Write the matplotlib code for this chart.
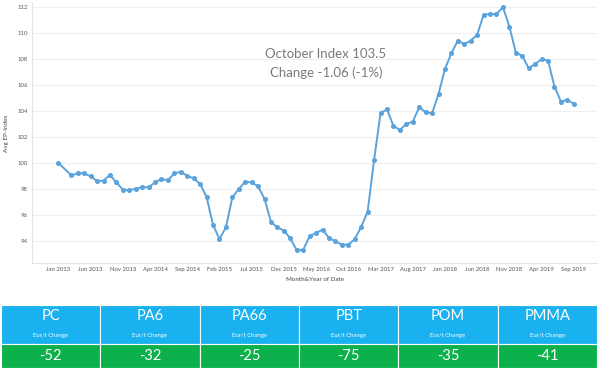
#!/usr/bin/env python3
"""EP-Index monthly line + price change table below"""
import matplotlib
matplotlib.use("Agg")
import matplotlib.pyplot as plt
from matplotlib.patches import Rectangle

plt.rcParams["font.family"] = ["Lato", "DejaVu Sans"]

# Months (year, month) - Feb 2013 has no value in the source
YEARS = [2013] * 11 + [2014] * 12 + [2015] * 12 + [2016] * 12 + [2017] * 12 + [2018] * 12 + [2019] * 9
MONTHS = [1] + list(range(3, 13)) + list(range(1, 13)) * 5 + list(range(1, 10))

EP_INDEX = [
    100.0, 99.05, 99.2, 99.2, 98.97, 98.6, 98.64, 99.08, 98.5, 97.95, 97.9,
    98.03, 98.13, 98.13, 98.5, 98.77, 98.67, 99.2, 99.33, 99.0, 98.82, 98.38, 97.38,
    95.23, 94.15, 95.05, 97.36, 98.0, 98.56, 98.5, 98.2, 97.23, 95.46, 95.05, 94.8,
    94.2, 93.28, 93.33, 94.36, 94.62, 94.87, 94.23, 93.97, 93.72, 93.72, 94.15, 95.08,
    96.26, 100.25, 103.82, 104.13, 102.85, 102.54, 103.0, 103.18, 104.28, 103.9, 103.82, 105.3,
    107.23, 108.44, 109.41, 109.13, 109.41, 109.85, 111.41, 111.44, 111.46, 111.97, 110.49, 108.49,
    108.23, 107.28, 107.62, 107.97, 107.87, 105.87, 104.72, 104.85, 104.54,
]

TICK_LABELS = ["Jan 2013", "Jun 2013", "Nov 2013", "Apr 2014", "Sep 2014", "Feb 2015",
               "Jul 2015", "Dec 2015", "May 2016", "Oct 2016", "Mar 2017", "Aug 2017",
               "Jan 2018", "Jun 2018", "Nov 2018", "Apr 2019", "Sep 2019"]

MATERIALS = ["PC", "PA6", "PA66", "PBT", "POM", "PMMA"]
CHANGES = [-52, -32, -25, -75, -35, -41]

LINE_C = "#5ba3dc"
BLUE = "#19b1ef"
GREEN = "#0db14b"

W, H = 600, 369
fig = plt.figure(figsize=(W / 100, H / 100), dpi=100, facecolor="white")

# --- line chart ---
ax = fig.add_axes([32 / W, 1 - 262.7 / H, (597 - 32) / W, (262.7 - 3) / H])
x = [(y - 2013) * 12 + m - 1 for y, m in zip(YEARS, MONTHS)]
ax.plot(x, EP_INDEX, color=LINE_C, lw=1.4, marker="o", ms=2.6, mec=LINE_C, mfc=LINE_C)

ax.set_xlim(-4.1, 83.6)
ax.set_ylim(92.33, 112.3)
ax.set_yticks(range(94, 113, 2))
ax.set_xticks(range(0, 81, 5))
ax.set_xticklabels(TICK_LABELS)
ax.tick_params(axis="both", length=0, labelsize=4.3, colors="#555555", pad=3)
ax.grid(axis="y", color="#efefef", lw=0.8)
ax.set_axisbelow(True)
for side in ["top", "right"]:
    ax.spines[side].set_visible(False)
ax.spines["left"].set_color("#e4e4e4")
ax.spines["bottom"].set_color("#e4e4e4")
ax.set_xlabel("Month&Year of Date", fontsize=4.5, color="#444444", labelpad=4)
ax.set_ylabel("Avg EP-Index", fontsize=4.5, color="#444444", labelpad=6)

fig.text(326 / W, 1 - 54 / H, "October Index 103.5", ha="center", va="center",
         fontsize=9.5, color="#7a7a7a")
fig.text(326 / W, 1 - 73 / H, "Change -1.06 (-1%)", ha="center", va="center",
         fontsize=9.5, color="#7a7a7a")

# --- table (pixel coords) ---
tax = fig.add_axes([0, 0, 1, 1])
tax.set_xlim(0, W)
tax.set_ylim(H, 0)
tax.axis("off")
left, right = 1, 597
top, mid, bot = 305, 344, 367.5
cw = (right - left) / len(MATERIALS)
for i, (name, val) in enumerate(zip(MATERIALS, CHANGES)):
    x0 = left + i * cw
    tax.add_patch(Rectangle((x0, top), cw, mid - top, facecolor=BLUE, edgecolor="white", lw=0.8))
    tax.add_patch(Rectangle((x0, mid), cw, bot - mid, facecolor=GREEN, edgecolor="white", lw=0.8))
    cx = x0 + cw / 2
    tax.text(cx, 316, name, ha="center", va="center", fontsize=10.5, color="white")
    tax.text(cx, 335, "Eur/t Change", ha="center", va="center", fontsize=4.3, color="white")
    tax.text(cx, 356.5, f"{val}", ha="center", va="center", fontsize=10.5, color="white")

fig.savefig("out.png", dpi=100, facecolor="white")
